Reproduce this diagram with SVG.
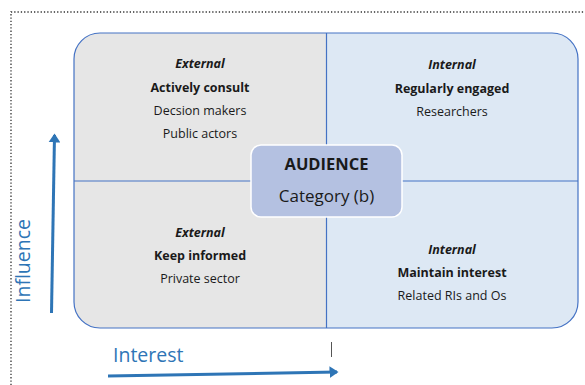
<svg xmlns="http://www.w3.org/2000/svg" width="585" height="385" viewBox="0 0 585 385">
<defs>
<style>
.t{font-family:"Open Sans","Liberation Sans",sans-serif;font-size:12.5px;fill:#1a1a1a;text-anchor:middle}
.i{font-style:italic;font-weight:bold}
.b{font-weight:bold}
.ax{font-family:"Open Sans","Liberation Sans",sans-serif;font-size:19.5px;fill:#2e75b6}
.div{stroke:#4472c4;stroke-width:1.2;fill:none}
.arr{stroke:#2e75b6;stroke-width:3;fill:none}
</style>
<marker id="ah" markerWidth="4" markerHeight="4" refX="2.5" refY="2" orient="auto" markerUnits="strokeWidth">
<path d="M0,0 L3,2 L0,4 Z" fill="#2e75b6"/>
</marker>
</defs>
<rect width="585" height="385" fill="#ffffff"/>
<path d="M11,385 V12 H585" stroke="#333" stroke-width="1.3" stroke-dasharray="1.3,2" fill="none"/>
<g id="quadrants">
<path d="M100,33 H326.5 V328 H100 A26,26 0 0 1 74,302 V59 A26,26 0 0 1 100,33 Z" fill="#e6e6e6"/>
<path d="M326.5,33 H552 A26,26 0 0 1 578,59 V302 A26,26 0 0 1 552,328 H326.5 Z" fill="#dde8f4"/>
<rect x="74" y="33" width="504" height="295" rx="26" ry="26" class="div"/>
<line x1="326.5" y1="33" x2="326.5" y2="328" class="div"/>
<line x1="74" y1="181" x2="578" y2="181" class="div"/>
</g>
<g id="q-top-left">
<text class="t i" x="200" y="68">External</text>
<text class="t b" x="200" y="92">Actively consult</text>
<text class="t" x="200" y="115">Decsion makers</text>
<text class="t" x="200" y="138">Public actors</text>
</g>
<g id="q-top-right">
<text class="t i" x="452" y="69">Internal</text>
<text class="t b" x="452" y="93">Regularly engaged</text>
<text class="t" x="452" y="116">Researchers</text>
</g>
<g id="q-bottom-left">
<text class="t i" x="200" y="237">External</text>
<text class="t b" x="200" y="260">Keep informed</text>
<text class="t" x="200" y="283">Private sector</text>
</g>
<g id="q-bottom-right">
<text class="t i" x="452" y="254">Internal</text>
<text class="t b" x="452" y="277">Maintain interest</text>
<text class="t" x="452" y="300">Related RIs and Os</text>
</g>
<g id="center">
<rect x="251" y="145" width="151" height="72" rx="10" ry="10" fill="#b4c1e1" stroke="#ffffff" stroke-width="1.5"/>
<text class="t b" x="326.5" y="170" style="font-size:16.5px">AUDIENCE</text>
<text class="t" x="326.5" y="202" style="font-size:17px">Category (b)</text>
</g>
<g id="connectors">
<line x1="51.5" y1="313" x2="54.5" y2="135" class="arr" marker-end="url(#ah)"/>
<line x1="108" y1="376" x2="337" y2="372" class="arr" marker-end="url(#ah)"/>
<line x1="331.5" y1="342" x2="331.5" y2="357" stroke="#555" stroke-width="1"/>
</g>
<g id="axis-labels">
<text class="ax" x="30" y="261" text-anchor="middle" transform="rotate(-90 30 261)">Influence</text>
<text class="ax" x="113" y="362">Interest</text>
</g>
</svg>
